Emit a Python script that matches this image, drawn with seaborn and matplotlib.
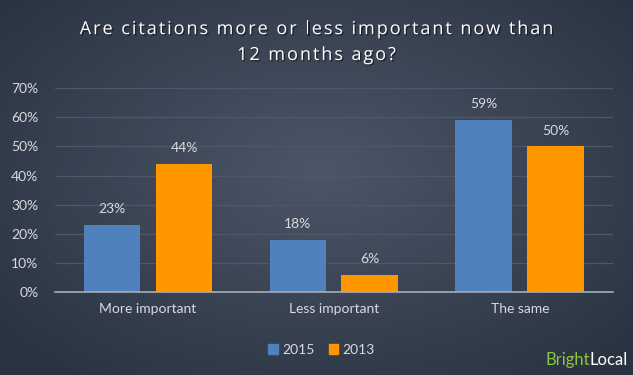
import numpy as np
import pandas as pd
import seaborn as sns
import matplotlib.pyplot as plt
import matplotlib.patheffects as pe
from matplotlib.patches import Patch

categories = ["More important", "Less important", "The same"]
years = ["2015", "2013"]
values_2015 = [0.23, 0.18, 0.59]
values_2013 = [0.44, 0.06, 0.50]

df = pd.DataFrame({
    "answer": categories * 2,
    "year": ["2015"] * 3 + ["2013"] * 3,
    "share": values_2015 + values_2013,
})

blue = "#4f81bd"
orange = "#ff9600"
txt = "#d8dadd"

sns.set_style("white")
plt.rcParams['font.family'] = ['Lato', 'DejaVu Sans']

fig = plt.figure(figsize=(6.33, 3.75), dpi=100)

# background radial gradient
bg = fig.add_axes([0, 0, 1, 1], zorder=-10)
yy, xx = np.mgrid[0:375, 0:633]
r = np.sqrt(((xx - 320) / 420.0) ** 2 + ((yy - 170) / 260.0) ** 2)
r = np.clip(r, 0, 1)
c0 = np.array([0x4c, 0x56, 0x66]) / 255.0
c1 = np.array([0x2a, 0x33, 0x42]) / 255.0
img = c0[None, None, :] * (1 - r[..., None]) + c1[None, None, :] * r[..., None]
bg.imshow(img, aspect="auto", extent=[0, 1, 0, 1], origin="upper")
bg.axis("off")

ax = fig.add_axes([0.087, 0.2213, 0.881, 0.5437])
ax.patch.set_alpha(0)
sns.barplot(data=df, x="answer", y="share", hue="year", hue_order=years,
            palette=[blue, orange], width=0.774, gap=0.21, ax=ax,
            legend=False, saturation=1, zorder=3, linewidth=0, edgecolor="none")

ax.set_ylim(0, 0.7)
ax.set_xlim(-0.5, 2.5)
ax.set_yticks(np.arange(0, 0.71, 0.1))
ax.set_yticklabels([f"{int(round(v * 100))}%" for v in np.arange(0, 0.71, 0.1)])
ax.set_xlabel("")
ax.set_ylabel("")
ax.tick_params(axis="both", length=0, labelsize=10, colors=txt)
ax.tick_params(axis="y", pad=12)
ax.tick_params(axis="x", pad=8)
ax.grid(axis="y", color="#4e5868", linewidth=0.9, zorder=0)
ax.set_axisbelow(True)
for s in ["top", "right", "left"]:
    ax.spines[s].set_visible(False)
ax.spines["bottom"].set_color("#a7adb5")
ax.spines["bottom"].set_linewidth(1.2)
ax.spines["bottom"].set_zorder(4)

for cont in ax.containers:
    ax.bar_label(cont, labels=[f"{int(round(b.get_height() * 100))}%" for b in cont],
                 padding=7, color=txt, fontsize=10)

# title: letter-spaced like the original
shadow = [pe.SimplePatchShadow(offset=(1, -1), shadow_rgbFace="black", alpha=0.45), pe.Normal()]
title_lines = ["Are citations more or less important now than", "12 months ago?"]
title_y = [0.909, 0.84]
title_font = dict(color="white", fontsize=13, family="Open Sans", path_effects=shadow)
spacing = 2.0  # extra px between letters
fig.canvas.draw()
renderer = fig.canvas.get_renderer()
for line, y in zip(title_lines, title_y):
    widths = []
    for ch in line:
        probe = fig.text(0, 0, ch if ch != " " else "a a", **title_font)
        w = probe.get_window_extent(renderer).width
        if ch == " ":
            w -= 2 * fig.text(0, 0, "a", **title_font).get_window_extent(renderer).width
            fig.texts[-1].remove()
        probe.remove()
        widths.append(w + spacing)
    total = sum(widths) - spacing
    x = 316.5 - total / 2
    for ch, w in zip(line, widths):
        if ch != " ":
            fig.text(x / 633, y, ch, ha="left", va="baseline", **title_font)
        x += w

handles = [Patch(color=blue, label="2015"), Patch(color=orange, label="2013")]
leg = fig.legend(handles=handles, loc="center", bbox_to_anchor=(0.508, 0.068), ncol=2,
                 frameon=False, fontsize=10, handlelength=0.7, handleheight=0.7,
                 handletextpad=0.3, columnspacing=1.0)
for t in leg.get_texts():
    t.set_color(txt)

# logo, bottom right
t_local = fig.text(0.992, 0.04, "Local", ha="right", va="center", color="white", fontsize=12)
fig.add_artist(plt.Annotation("Bright", xy=(0, 0.5), xycoords=t_local, ha="right",
                              va="center", color="#8cc63f", fontsize=12,
                              annotation_clip=False))

fig.savefig("out.png", dpi=100)
